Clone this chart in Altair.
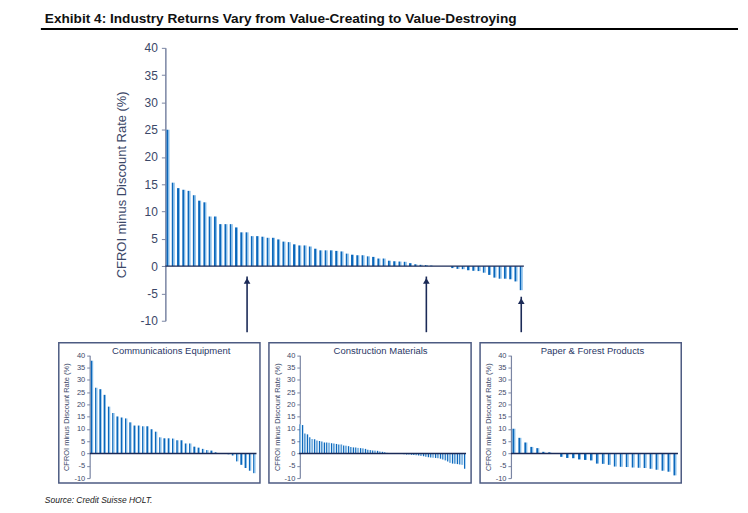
import altair as alt
import pandas as pd

# ---------------- data ----------------
main_values = [25.0, 15.3, 14.3, 14.0, 13.8, 13.0, 12.0, 11.7, 9.1, 9.1,
               7.7, 7.7, 7.7, 7.1, 6.2, 6.2, 5.5, 5.5, 5.4, 5.2,
               5.2, 4.9, 4.5, 4.4, 4.0, 3.8, 3.8, 3.6, 3.2, 2.9,
               2.9, 2.9, 2.8, 2.7, 2.3, 2.1, 2.0, 2.0, 1.8, 1.7,
               1.4, 1.4, 1.0, 0.9, 0.85, 0.8, 0.55, 0.35, 0.25, 0.2,
               0.1, 0.0, 0.0, 0.0, -0.35, -0.5, -0.55, -0.75, -0.85, -0.9,
               -1.2, -1.6, -2.1, -2.3, -2.3, -2.4, -2.8, -4.4]

comm_values = [37.8, 26.8, 26.2, 23.9, 19.1, 16.5, 15.1, 14.7, 14.3, 12.7,
               11.4, 11.4, 11.1, 11.1, 9.9, 8.9, 6.6, 6.2, 6.2, 6.1,
               5.4, 5.4, 4.1, 4.1, 2.8, 2.4, 1.9, 1.4, 1.2, 0.5,
               0.0, 0.0, -0.3, -0.8, -3.2, -4.6, -5.9, -7.0, -8.0]

constr_values = [11.9, 11.6, 8.2, 7.8, 6.6, 5.9, 5.8, 5.3, 5.1, 4.9,
                 4.5, 4.5, 4.4, 4.2, 4.1, 3.9, 3.7, 3.7, 3.3, 3.2,
                 3.0, 2.7, 2.5, 2.5, 2.3, 2.2, 2.1, 1.9, 1.5, 1.4,
                 1.2, 1.2, 1.1, 0.8, 0.7, 0.5, 0.3, 0.2, 0.0, 0.0,
                 0.0, 0.0, -0.2, -0.3, -0.4, -0.4, -0.5, -0.6, -0.7, -0.8,
                 -1.0, -1.1, -1.3, -1.5, -1.6, -1.7, -1.8, -1.9, -2.1, -2.4,
                 -2.8, -3.2, -3.8, -4.1, -4.2, -4.3, -4.5, -4.6, -6.2]

paper_values = [10.1, 6.4, 4.5, 2.7, 2.2, 0.7, 0.5, 0.0, -1.35, -1.8,
                -1.9, -2.4, -2.6, -2.8, -4.1, -4.2, -4.6, -5.3, -5.4, -5.5,
                -5.7, -5.8, -5.9, -6.2, -6.6, -7.0, -7.4, -8.9]

panel_titles = ["Communications Equipment", "Construction Materials", "Paper & Forest Products"]
arrow_bars = [16, 50, 68]          # bar index each arrow points at
arrow_tips = [-1.9, -1.9, -5.6]
arrow_base = -12.1
y_ticks = [-10, -5, 0, 5, 10, 15, 20, 25, 30, 35, 40]
y_title = "CFROI minus Discount Rate (%)"
main_title = "Exhibit 4: Industry Returns Vary from Value-Creating to Value-Destroying"
source_note = "Source: Credit Suisse HOLT."

FONT = "Liberation Sans"
LABEL_C = "#3b4768"
AXIS_C = "#7a85a3"
ZERO_C = "#1b2a57"
ARROW_C = "#1b2a57"
BOX_C = "#4d5b82"

bar_fill = alt.Gradient(
    gradient="linear", x1=0, x2=1, y1=0, y2=0,
    stops=[alt.GradientStop(color="#0b67bb", offset=0),
           alt.GradientStop(color="#0b67bb", offset=0.5),
           alt.GradientStop(color="#86bce8", offset=0.56),
           alt.GradientStop(color="#86bce8", offset=1)])


def bar_layers(values, xrange, yrange, bar_w, axis_kw):
    n = len(values)
    df = pd.DataFrame({"i": list(range(1, n + 1)), "v": values})
    x_enc = alt.X("i:Q", scale=alt.Scale(domain=[0.5, n + 0.5], range=xrange, nice=False,
                                         zero=False, padding=0), axis=None)
    y_enc = alt.Y("v:Q", scale=alt.Scale(domain=[-10, 40], range=yrange, nice=False, zero=False),
                  axis=alt.Axis(values=y_ticks, grid=False, title=y_title, titleFont=FONT,
                                labelFont=FONT, labelColor=LABEL_C, titleColor=LABEL_C,
                                domainColor=AXIS_C, tickColor=AXIS_C, titleFontWeight="normal",
                                labelExpr="'' + datum.value", **axis_kw))
    bars = alt.Chart(df).mark_bar(size=bar_w, color=bar_fill).encode(x=x_enc, y=y_enc)
    zdf = pd.DataFrame({"i": [0.5], "i2": [n + 0.5], "v": [0]})
    zero = alt.Chart(zdf).mark_rule(color=ZERO_C, strokeWidth=1.4).encode(x=x_enc, x2="i2:Q", y=y_enc)
    return x_enc, y_enc, bars, zero


# ---------------- main chart ----------------
MW, MH = 625, 295
x_m, y_m, bars_m, zero_m = bar_layers(
    main_values, [107, 467], [282, 8], 3,
    dict(offset=-107, tickSize=4, labelPadding=4, labelFontSize=12, titleFontSize=13,
         titlePadding=12, domainWidth=1.5))

adf = pd.DataFrame({"i": arrow_bars, "v": arrow_tips, "v2": [arrow_base] * 3})
arrow_shaft = alt.Chart(adf).mark_rule(color=ARROW_C, strokeWidth=1.6).encode(x=x_m, y=y_m, y2="v2:Q")
hdf = pd.DataFrame({"i": arrow_bars, "v": [t - 0.8 for t in arrow_tips]})
arrow_head = alt.Chart(hdf).mark_point(shape="triangle-up", filled=True, size=45, opacity=1,
                                       color=ARROW_C).encode(x=x_m, y=y_m)

title_txt = alt.Chart(pd.DataFrame({"t": [main_title]})).mark_text(
    align="left", baseline="alphabetic", font=FONT, fontWeight="bold", fontSize=13.7, color="#111111"
).encode(text="t:N", x=alt.value(-14), y=alt.value(-17))
top_rule = alt.Chart(pd.DataFrame({"t": [0]})).mark_rule(color="#000000", strokeWidth=2).encode(
    x=alt.value(-18), x2=alt.value(682), y=alt.value(-11))

main = alt.layer(bars_m, zero_m, arrow_shaft, arrow_head, title_txt, top_rule).properties(
    width=MW, height=MH)


# ---------------- small panels ----------------
def panel(values, title, width, xrange, bar_w, note=None):
    _, _, bars, zero = bar_layers(
        values, xrange, [136, 12.7], bar_w,
        dict(offset=-31, tickSize=3, labelPadding=2, labelFontSize=7.5, titleFontSize=7.5,
             titlePadding=3, domainWidth=1.2))
    ttl = alt.Chart(pd.DataFrame({"t": [title]})).mark_text(
        align="center", baseline="alphabetic", font=FONT, fontSize=9.5, color="#2a3766"
    ).encode(text="t:N", x=alt.value(xrange[0] + (xrange[1] - xrange[0]) / 2 - 2), y=alt.value(11))
    layers = [bars, zero, ttl]
    if note:
        layers.append(alt.Chart(pd.DataFrame({"t": [note]})).mark_text(
            align="left", baseline="alphabetic", font=FONT, fontStyle="italic", fontSize=8.5,
            color="#222222").encode(text="t:N", x=alt.value(-14), y=alt.value(161)))
    return alt.layer(*layers).properties(
        width=width, height=141,
        view=alt.ViewBackground(stroke=BOX_C, strokeWidth=1.5))


p1 = panel(comm_values, panel_titles[0], 202, [31.2, 198.5], 2.4, note=source_note)
p2 = panel(constr_values, panel_titles[1], 203, [30.3, 197.9], 1.6)
p3 = panel(paper_values, panel_titles[2], 202, [31, 198.7], 3)

row = alt.hconcat(p1, p2, p3, spacing=9, bounds="flush")

chart = alt.vconcat(main, row, spacing=9, bounds="flush").properties(
    padding={"left": 31, "top": 2, "right": 0, "bottom": 0}
).configure_view(stroke="transparent")

chart.save("out.html", embed_options={"renderer": "svg", "actions": False})
